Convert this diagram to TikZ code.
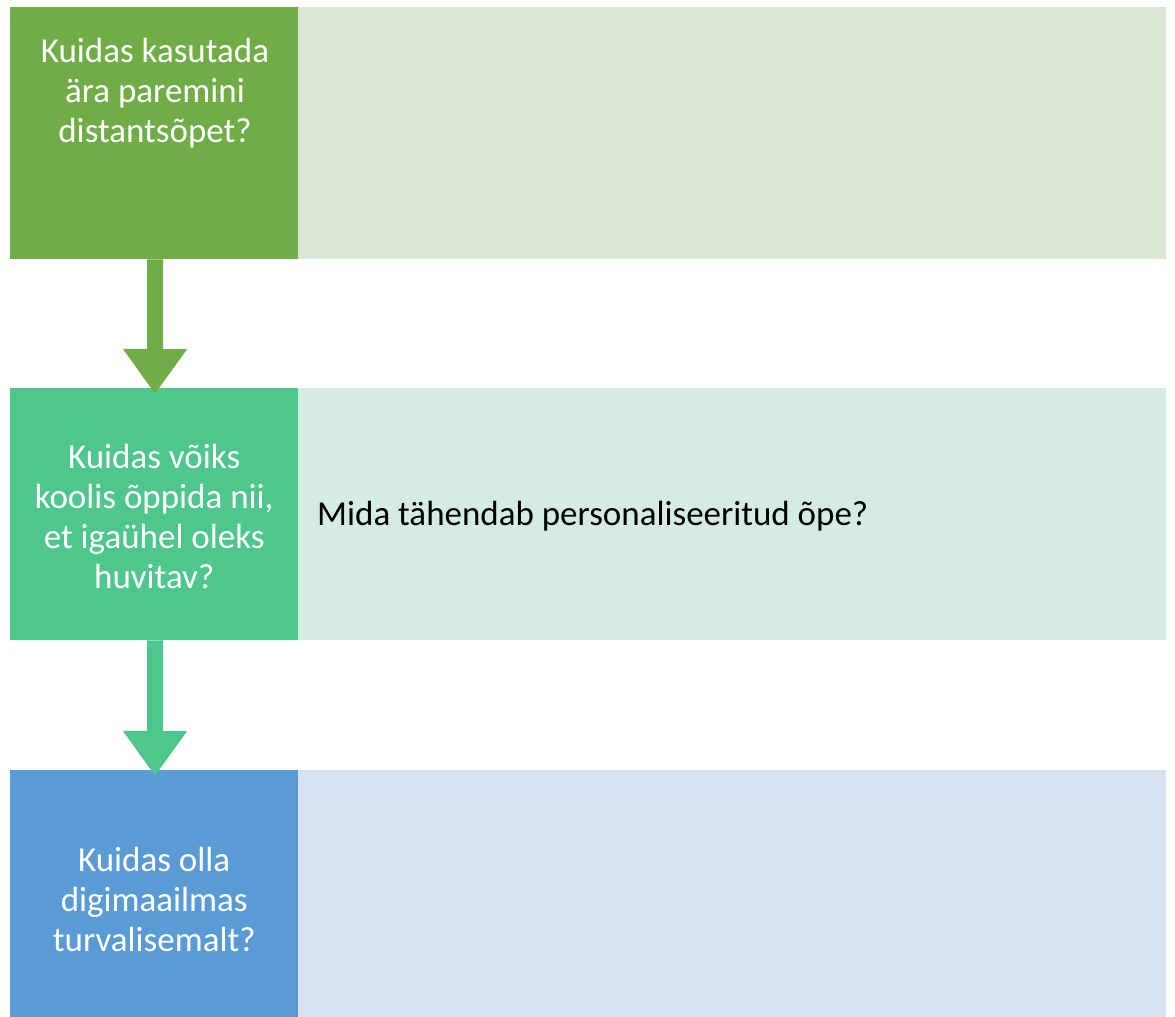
\documentclass[tikz,border=0pt]{standalone}
\usepackage{fontspec}
\setmainfont{Carlito}
\usetikzlibrary{arrows.meta}
\definecolor{gA}{HTML}{70AD47}
\definecolor{gAl}{HTML}{DAE5D3}
\definecolor{gB}{HTML}{4EC78C}
\definecolor{gBl}{HTML}{D4ECE2}
\definecolor{bC}{HTML}{5B9BD5}
\definecolor{bCl}{HTML}{D6E1F1}
\begin{document}
\begin{tikzpicture}[x=1pt,y=-1pt,
  qbox/.style={draw=none,minimum width=288pt,minimum height=252pt,inner sep=0pt,anchor=north west},
  abox/.style={draw=none,minimum width=868pt,minimum height=252pt,inner sep=0pt,anchor=north west},
  qtext/.style={text=white,align=center,inner sep=0pt,font=\fontsize{35}{40}\selectfont},
  atext/.style={text=black,align=left,inner sep=0pt,font=\fontsize{35}{40}\selectfont},
  flow/.style={line width=16pt,-{Triangle[width=61pt,length=45pt]}}]
\useasboundingbox (0,0) rectangle (1175,1017);
\fill[white] (0,0) rectangle (1175,1017);
% row 1
\node[abox,fill=gAl] (r1) at (298,7) {};
\node[qbox,fill=gA] (q1) at (10,7) {};
\node[qtext,anchor=north] (t1) at (155,38) {Kuidas kasutada\\ära paremini\\distantsõpet?};
% row 2
\node[abox,fill=gBl] (r2) at (298,388) {};
\node[qbox,fill=gB] (q2) at (10,388) {};
\node[qtext] (t2) at ([yshift=-2pt]q2.center) {Kuidas võiks\\koolis õppida nii,\\et igaühel oleks\\huvitav?};
\node[atext,anchor=west] (a2) at (317,516) {Mida tähendab personaliseeritud õpe?};
% row 3
\node[abox,fill=bCl] (r3) at (298,770) {};
\node[qbox,fill=bC] (q3) at (10,770) {};
\node[qtext] (t3) at ([yshift=-3pt]q3.center) {Kuidas olla\\digimaailmas\\turvalisemalt?};
% arrows
\coordinate (e1) at (155,394);
\coordinate (e2) at (155,776);
\draw[flow,gA] ([xshift=1pt]q1.south) -- (e1);
\draw[flow,gB] ([xshift=1pt]q2.south) -- (e2);
\end{tikzpicture}
\end{document}
